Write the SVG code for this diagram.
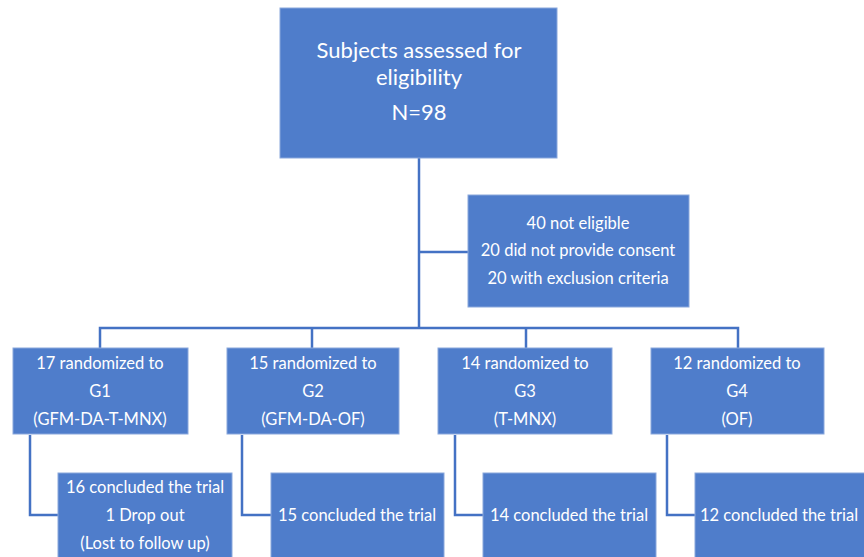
<svg xmlns="http://www.w3.org/2000/svg" width="864" height="557" viewBox="0 0 864 557">
<style>
.box{fill:#4F7DCB;stroke:#8AA8DC;stroke-width:1}
.t{font-family:Lato,"Open Sans","Liberation Sans",sans-serif;fill:#FFFFFF;text-anchor:middle;font-size:16.5px}
.big{font-size:22px}
.c{fill:none;stroke:#4472C4;stroke-width:2.5}
</style>
<rect width="864" height="557" fill="#FFFFFF"/>
<g id="connectors">
<path class="c" d="M419 158 V328"/>
<path class="c" d="M419 252 H468"/>
<path class="c" d="M100 348 V328 H738 V348"/>
<path class="c" d="M312 328 V348"/>
<path class="c" d="M526 328 V348"/>
<path class="c" d="M30 435 V515 H58"/>
<path class="c" d="M242 435 V515 H271"/>
<path class="c" d="M455 435 V515 H483"/>
<path class="c" d="M667 435 V515 H695"/>
</g>
<g id="n-assessed">
<rect class="box" x="280" y="8" width="277" height="150"/>
<text class="t big" x="419" y="58">Subjects assessed for</text>
<text class="t big" x="419" y="85">eligibility</text>
<text class="t big" x="419" y="120">N=98</text>
</g>
<g id="n-excluded">
<rect class="box" x="468" y="195" width="221" height="112"/>
<text class="t" x="578" y="229">40 not eligible</text>
<text class="t" x="578" y="256">20 did not provide consent</text>
<text class="t" x="578" y="284">20 with exclusion criteria</text>
</g>
<g id="n-g1">
<rect class="box" x="13" y="348" width="175" height="86"/>
<text class="t" x="100" y="369">17 randomized to</text>
<text class="t" x="100" y="397">G1</text>
<text class="t" x="100" y="425">(GFM-DA-T-MNX)</text>
</g>
<g id="n-g2">
<rect class="box" x="227" y="348" width="172" height="86"/>
<text class="t" x="313" y="369">15 randomized to</text>
<text class="t" x="313" y="397">G2</text>
<text class="t" x="313" y="425">(GFM-DA-OF)</text>
</g>
<g id="n-g3">
<rect class="box" x="438" y="348" width="174" height="86"/>
<text class="t" x="525" y="369">14 randomized to</text>
<text class="t" x="525" y="397">G3</text>
<text class="t" x="525" y="425">(T-MNX)</text>
</g>
<g id="n-g4">
<rect class="box" x="651" y="348" width="173" height="86"/>
<text class="t" x="737" y="369">12 randomized to</text>
<text class="t" x="737" y="397">G4</text>
<text class="t" x="737" y="425">(OF)</text>
</g>
<g id="n-c1">
<rect class="box" x="58" y="473" width="174" height="100"/>
<text class="t" x="145" y="493">16 concluded the trial</text>
<text class="t" x="145" y="521">1 Drop out</text>
<text class="t" x="145" y="549">(Lost to follow up)</text>
</g>
<g id="n-c2">
<rect class="box" x="271" y="473" width="173" height="100"/>
<text class="t" x="357" y="521">15 concluded the trial</text>
</g>
<g id="n-c3">
<rect class="box" x="483" y="473" width="173" height="100"/>
<text class="t" x="569" y="521">14 concluded the trial</text>
</g>
<g id="n-c4">
<rect class="box" x="695" y="473" width="173" height="100"/>
<text class="t" x="779" y="521">12 concluded the trial</text>
</g>
</svg>
